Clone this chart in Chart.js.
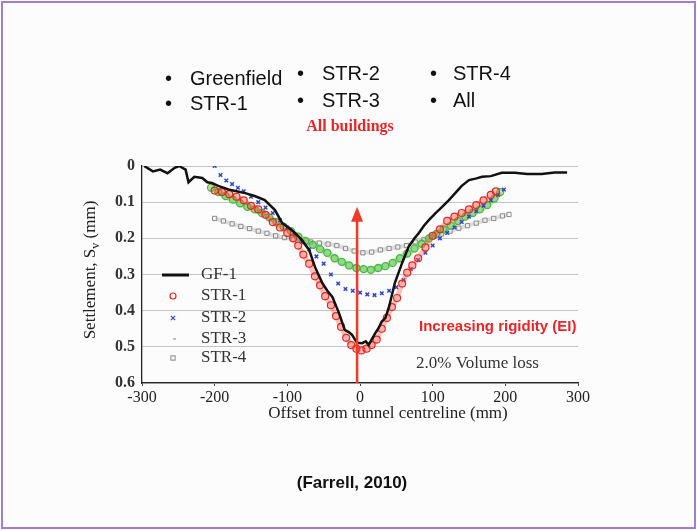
<!DOCTYPE html>
<html>
<head>
<meta charset="utf-8">
<script src="https://cdn.jsdelivr.net/npm/chart.js@4.4.1/dist/chart.umd.min.js"></script>
<style>
  body { margin: 0; background: #fcfcfc; }
  #wrap { width: 697px; height: 530px; }
</style>
</head>
<body>
<div id="wrap"><canvas id="myChart" width="697" height="530"></canvas></div>
<script>
// offsets in mm, settlements in mm
const gfX = [-297,-285,-275,-265,-255,-249,-240,-236,-228,-217,-210,-204,-195,-181,-170,-158,-145,-131,-124,-117,-107,-100,-94,-87,-80,-70,-62,-52,-45,-38,-29,-21,-15,-11,-4,3,8,12,16,21,25,30,35,40,48,58,67,75,81,88,95,104,113,122,131,140,150,159,168,180,195,213,230,250,268,285];
const gfY = [0.0,0.015,0.01,0.02,0.005,0.0,0.01,0.045,0.03,0.033,0.045,0.047,0.055,0.065,0.07,0.075,0.083,0.094,0.108,0.122,0.158,0.168,0.177,0.19,0.205,0.232,0.279,0.323,0.345,0.362,0.406,0.453,0.46,0.467,0.489,0.49,0.485,0.495,0.48,0.462,0.45,0.43,0.42,0.389,0.323,0.268,0.223,0.2,0.185,0.165,0.149,0.13,0.113,0.095,0.075,0.055,0.039,0.035,0.03,0.028,0.019,0.019,0.022,0.022,0.018,0.018];

const str1X = [-200,-190,-180,-170,-160,-150,-140,-130,-120,-110,-100,-92,-85,-78,-70,-62,-55,-48,-40,-33,-26,-19,-12,-5,2,9,16,23,30,37,44,51,58,65,72,80,90,100,110,120,130,140,150,160,170,180,187];
const str1Y = [0.068,0.072,0.078,0.085,0.095,0.11,0.12,0.135,0.155,0.17,0.185,0.2,0.22,0.245,0.27,0.305,0.33,0.36,0.385,0.415,0.445,0.475,0.495,0.505,0.51,0.505,0.495,0.48,0.45,0.42,0.39,0.365,0.325,0.295,0.275,0.255,0.225,0.193,0.175,0.152,0.14,0.13,0.12,0.108,0.095,0.08,0.07];

const str2X = [-200,-192,-184,-176,-168,-160,-150,-140,-130,-120,-110,-100,-90,-80,-70,-60,-50,-40,-30,-20,-10,0,10,20,30,40,50,60,70,80,90,100,110,120,130,140,150,160,170,180,190,198];
const str2Y = [0.0,0.025,0.04,0.05,0.06,0.07,0.085,0.1,0.115,0.13,0.15,0.17,0.19,0.21,0.23,0.25,0.27,0.3,0.325,0.34,0.345,0.35,0.355,0.357,0.352,0.345,0.335,0.315,0.285,0.26,0.24,0.22,0.2,0.185,0.17,0.155,0.14,0.125,0.11,0.095,0.08,0.065];

const str3X = [-205,-195,-185,-175,-165,-155,-145,-135,-125,-115,-105,-95,-85,-75,-65,-55,-45,-35,-25,-15,-5,5,15,25,35,45,55,65,75,85,95,105,115,125,135,145,155,165,175,185,193];
const str3Y = [0.06,0.072,0.083,0.093,0.103,0.113,0.12,0.13,0.142,0.155,0.168,0.18,0.195,0.207,0.218,0.23,0.24,0.255,0.265,0.275,0.282,0.285,0.287,0.282,0.277,0.268,0.255,0.242,0.228,0.215,0.2,0.188,0.175,0.165,0.152,0.14,0.13,0.12,0.108,0.09,0.072];

const str4X = [-200,-188,-176,-164,-152,-140,-128,-116,-104,-92,-80,-68,-56,-44,-32,-20,-8,4,16,28,40,52,64,76,88,100,112,124,136,148,160,172,184,196,205];
const str4Y = [0.145,0.152,0.16,0.167,0.173,0.18,0.186,0.193,0.198,0.203,0.207,0.21,0.213,0.216,0.22,0.228,0.235,0.24,0.238,0.232,0.228,0.224,0.22,0.21,0.203,0.196,0.188,0.18,0.172,0.165,0.158,0.15,0.145,0.138,0.134];

const xTicks = [-300, -200, -100, 0, 100, 200, 300];
const yTicks = [0, 0.1, 0.2, 0.3, 0.4, 0.5, 0.6];
const seriesNames = ['GF-1', 'STR-1', 'STR-2', 'STR-3', 'STR-4'];
const topNotes = ['Greenfield', 'STR-1', 'STR-2', 'STR-3', 'STR-4', 'All'];
const arrowX = -4, arrowFrom = 0.6, arrowTo = 0.113;

function points(xs, ys) {
    return xs.map((x, i) => ({ x: x, y: ys[i] }));
}

const serif = '"Liberation Serif", "Times New Roman", serif';
const sans = '"Liberation Sans", Arial, sans-serif';

const overlay = {
    id: 'overlay',
    beforeDraw(chart) {
        const ctx = chart.ctx;
        ctx.save();
        ctx.fillStyle = '#fcfcfc';
        ctx.fillRect(0, 0, chart.width, chart.height);
        ctx.restore();
    },
    afterDraw(chart) {
        const ctx = chart.ctx;
        const xs = chart.scales.x, ys = chart.scales.y;
        ctx.save();

        // frame
        ctx.strokeStyle = '#a27fc8';
        ctx.lineWidth = 2;
        ctx.strokeRect(2, 2, chart.width - 4, chart.height - 4);

        // bullet list on top
        ctx.fillStyle = '#111';
        ctx.font = '20px ' + sans;
        ctx.textBaseline = 'alphabetic';
        const cols = [[165, 190], [297, 322], [430, 453]];
        const rows = [[85, 110], [80, 107], [80, 107]];
        topNotes.forEach((t, i) => {
            const c = Math.floor(i / 2), r = i % 2;
            ctx.fillText('\u2022', cols[c][0], rows[c][r]);
            ctx.fillText(t, cols[c][1], rows[c][r]);
        });

        ctx.fillStyle = '#e8262a';
        ctx.font = 'bold 16px ' + serif;
        ctx.textAlign = 'center';
        ctx.fillText('All buildings', 350, 131);

        // arrow
        const ax = xs.getPixelForValue(arrowX);
        const ay0 = ys.getPixelForValue(arrowFrom), ay1 = ys.getPixelForValue(arrowTo);
        ctx.strokeStyle = '#f0392b';
        ctx.fillStyle = '#f0392b';
        ctx.lineWidth = 2.5;
        ctx.beginPath();
        ctx.moveTo(ax, ay0);
        ctx.lineTo(ax, ay1 + 12);
        ctx.stroke();
        ctx.beginPath();
        ctx.moveTo(ax, ay1);
        ctx.lineTo(ax - 6, ay1 + 15);
        ctx.lineTo(ax + 6, ay1 + 15);
        ctx.closePath();
        ctx.fill();

        ctx.textAlign = 'left';
        ctx.fillStyle = '#e8262a';
        ctx.font = 'bold 15px ' + sans;
        ctx.fillText('Increasing rigidity (EI)', 419, 331);

        ctx.fillStyle = '#333';
        ctx.font = '17px ' + serif;
        ctx.fillText('2.0% Volume loss', 416, 368);

        // x title
        ctx.textAlign = 'center';
        ctx.textBaseline = 'middle';
        ctx.fillStyle = '#222';
        ctx.font = '17px ' + serif;
        ctx.fillText('Offset from tunnel centreline (mm)', 388, 414);

        // y title with subscript
        ctx.save();
        ctx.translate(91, 270);
        ctx.rotate(-Math.PI / 2);
        ctx.textAlign = 'left';
        const a = 'Settlement, S', b = 'v', c = ' (mm)';
        ctx.font = '17px ' + serif;
        const wa = ctx.measureText(a).width, wc = ctx.measureText(c).width;
        ctx.font = '12px ' + serif;
        const wb = ctx.measureText(b).width;
        let x0 = -(wa + wb + wc) / 2;
        ctx.font = '17px ' + serif;
        ctx.fillText(a, x0, 0);
        ctx.font = '12px ' + serif;
        ctx.fillText(b, x0 + wa, 5);
        ctx.font = '17px ' + serif;
        ctx.fillText(c, x0 + wa + wb, 0);
        ctx.restore();

        // inner legend
        const legY = [275, 296, 318, 339, 358];
        ctx.font = '17px ' + serif;
        ctx.textAlign = 'left';
        chart.data.datasets.forEach((ds, i) => {
            const y = legY[i];
            if (ds.pointRadius === 0) {
                ctx.strokeStyle = ds.borderColor;
                ctx.lineWidth = 3;
                ctx.beginPath();
                ctx.moveTo(162, y);
                ctx.lineTo(189, y);
                ctx.stroke();
            } else {
                const col = ds.legendColor || ds.pointBorderColor;
                ctx.strokeStyle = col;
                ctx.fillStyle = 'rgba(255,255,255,0)';
                ctx.lineWidth = 1.2;
                Chart.helpers.drawPoint(ctx, { pointStyle: ds.legendStyle || ds.pointStyle, radius: 3, rotation: 0, borderWidth: 1.2 }, 173, y);
            }
            ctx.fillStyle = '#333';
            ctx.fillText(ds.label, 201, y);
        });

        // Farrell
        ctx.textAlign = 'center';
        ctx.textBaseline = 'alphabetic';
        ctx.fillStyle = '#111';
        ctx.font = 'bold 17px ' + sans;
        ctx.fillText('(Farrell, 2010)', 352, 488);

        ctx.restore();
    }
};

const data = {
    datasets: [{
        label: seriesNames[0],
        data: points(gfX, gfY),
        showLine: true,
        borderColor: '#111',
        borderWidth: 2.5,
        pointRadius: 0,
        tension: 0
    }, {
        label: seriesNames[1],
        data: points(str1X, str1Y),
        showLine: true,
        borderColor: 'rgba(240,80,70,0.35)',
        borderWidth: 5,
        pointStyle: 'circle',
        pointRadius: 3.5,
        pointBorderWidth: 1.2,
        pointBorderColor: '#e8261e',
        pointBackgroundColor: 'rgba(240,90,80,0.15)'
    }, {
        label: seriesNames[2],
        data: points(str2X, str2Y),
        showLine: false,
        pointStyle: 'crossRot',
        pointRadius: 2.5,
        pointBorderWidth: 1.5,
        pointBorderColor: '#3346c8',
        pointBackgroundColor: '#3346c8'
    }, {
        label: seriesNames[3],
        data: points(str3X, str3Y),
        showLine: true,
        borderColor: 'rgba(100,200,80,0.45)',
        borderWidth: 6,
        pointStyle: 'circle',
        pointRadius: 3.5,
        pointBorderWidth: 1.3,
        pointBorderColor: '#48b844',
        pointBackgroundColor: 'rgba(110,200,90,0.45)',
        legendColor: '#999',
        legendStyle: 'dash'
    }, {
        label: seriesNames[4],
        data: points(str4X, str4Y),
        showLine: true,
        borderColor: 'rgba(150,150,150,0.3)',
        borderWidth: 4,
        pointStyle: 'rect',
        pointRadius: 3,
        pointBorderWidth: 1,
        pointBorderColor: '#8a8a8a',
        pointBackgroundColor: 'rgba(255,255,255,0.5)',
        legendColor: '#999'
    }]
};

const config = {
    type: 'scatter',
    data: data,
    options: {
        responsive: false,
        animation: false,
        layout: { padding: { left: 0, top: 166, right: 119, bottom: 106 } },
        plugins: { legend: { display: false }, tooltip: { enabled: false } },
        scales: {
            x: {
                type: 'linear',
                min: xTicks[0],
                max: xTicks[xTicks.length - 1],
                afterBuildTicks: s => { s.ticks = xTicks.map(v => ({ value: v })); },
                afterFit: s => { s.height = 41; },
                ticks: { font: { family: serif, size: 16 }, color: '#222', padding: 2 },
                grid: { drawOnChartArea: false, drawTicks: true, tickLength: 3, color: '#444' },
                border: { color: '#222', width: 1.3 }
            },
            y: {
                type: 'linear',
                reverse: true,
                min: yTicks[0],
                max: yTicks[yTicks.length - 1],
                afterBuildTicks: s => { s.ticks = yTicks.map(v => ({ value: v })); },
                afterFit: s => { s.width = 142; },
                ticks: {
                    font: { family: serif, size: 16, weight: 'bold' },
                    color: '#333',
                    padding: 7,
                    callback: v => v === 0 ? '0' : v.toFixed(1)
                },
                grid: { color: '#c4c4c4', lineWidth: 1, drawTicks: false },
                border: { color: '#222', width: 1.3 }
            }
        }
    },
    plugins: [overlay]
};

const myChart = new Chart(document.getElementById('myChart'), config);
</script>
</body>
</html>
